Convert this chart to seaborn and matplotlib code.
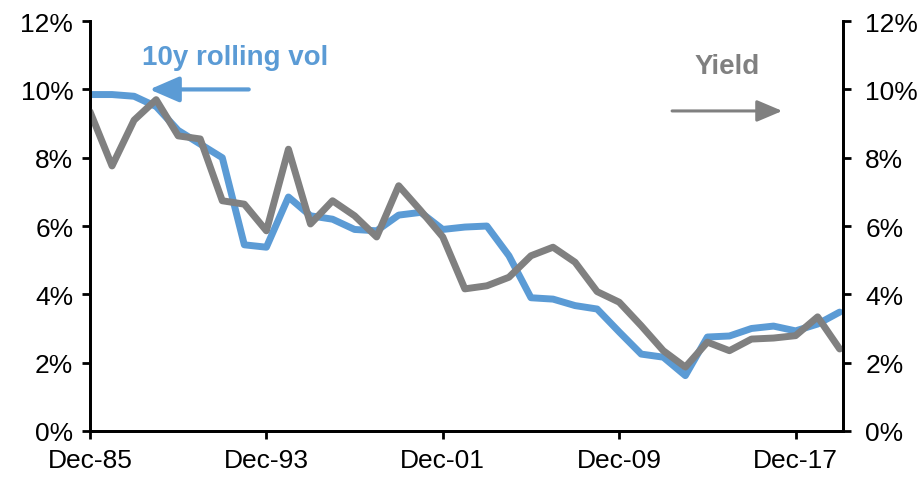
import pandas as pd
import matplotlib.pyplot as plt
import seaborn as sns

# annual observations, Dec-85 .. Dec-19
years = list(range(1985, 2020))
rolling_vol = [9.85, 9.85, 9.8, 9.5, 8.8, 8.4, 8.0, 5.45, 5.38, 6.85, 6.3, 6.2,
               5.9, 5.86, 6.32, 6.4, 5.9, 5.97, 6.0, 5.13, 3.9, 3.86, 3.67, 3.57,
               2.9, 2.25, 2.16, 1.62, 2.75, 2.78, 3.0, 3.07, 2.93, 3.13, 3.48]
yield_pct = [9.35, 7.76, 9.1, 9.7, 8.64, 8.55, 6.74, 6.64, 5.86, 8.25, 6.06, 6.74,
             6.3, 5.68, 7.18, 6.45, 5.68, 4.16, 4.25, 4.5, 5.13, 5.38, 4.94, 4.08,
             3.77, 3.08, 2.35, 1.87, 2.6, 2.35, 2.69, 2.72, 2.79, 3.34, 2.4]
tick_years = [1985, 1993, 2001, 2009, 2017]
tick_labels = ["Dec-85", "Dec-93", "Dec-01", "Dec-09", "Dec-17"]
y_ticks = [0, 2, 4, 6, 8, 10, 12]

df = pd.DataFrame({"year": years, "vol": rolling_vol, "yield": yield_pct})

sns.set_theme(style="white")
plt.rcParams["font.family"] = ["Liberation Sans Narrow", "Liberation Sans", "DejaVu Sans"]

blue = "#5B9BD5"
grey = "#808080"

fig = plt.figure(figsize=(9.22, 4.81), dpi=100)
ax = fig.add_axes([0.0976, 0.102, 0.8167, 0.852])
ax2 = ax.twinx()

sns.lineplot(data=df, x="year", y="vol", ax=ax, color=blue, linewidth=5)
sns.lineplot(data=df, x="year", y="yield", ax=ax2, color=grey, linewidth=5)

for a in (ax, ax2):
    a.set_ylim(0, 12)
    a.set_yticks(y_ticks)
    a.set_yticklabels([f"{t}%" for t in y_ticks])
    a.set_ylabel("")
    a.set_xlabel("")
    a.spines["top"].set_visible(False)
    for s in ("left", "right", "bottom"):
        a.spines[s].set_color("black")
        a.spines[s].set_linewidth(2)
    a.tick_params(axis="both", labelsize=19, colors="black", width=2, length=6)

ax.set_xlim(1985, 2019.15)
ax.set_xticks(tick_years)
ax.set_xticklabels(tick_labels)
ax.tick_params(axis="x", pad=6, direction="out", bottom=True)
ax.tick_params(axis="y", left=True, direction="out", pad=6)
ax2.tick_params(axis="y", right=True, direction="out", pad=10)

# labels with arrows
ax.text(1991.6, 10.95, "10y rolling vol", color=blue, fontsize=20,
        fontweight="bold", ha="center", va="center")
ax.annotate("", xy=(1987.7, 10.0), xytext=(1992.2, 10.0),
            arrowprops=dict(arrowstyle="-|>,head_length=1.5,head_width=0.65",
                            color=blue, lw=3, shrinkA=0, shrinkB=0))
ax.text(2013.9, 10.68, "Yield", color=grey, fontsize=20,
        fontweight="bold", ha="center", va="center")
ax.annotate("", xy=(2016.4, 9.37), xytext=(2011.4, 9.37),
            arrowprops=dict(arrowstyle="-|>,head_length=1.3,head_width=0.55",
                            color=grey, lw=2.2, shrinkA=0, shrinkB=0))

fig.savefig("out.png", dpi=100)
